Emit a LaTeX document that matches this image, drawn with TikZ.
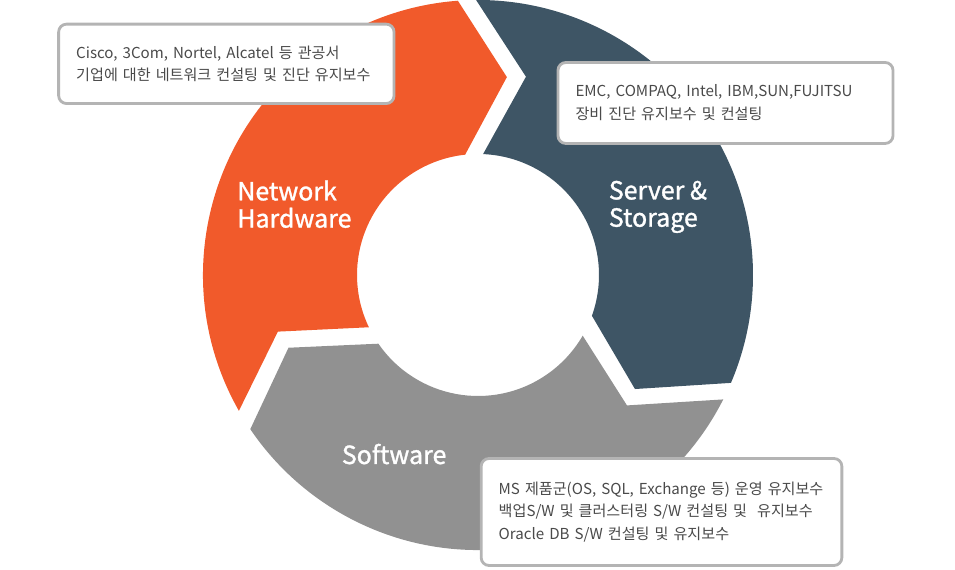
\documentclass[tikz,border=0pt]{standalone}
\usepackage{fontspec}
\setmainfont{Noto Sans CJK KR}
\newfontfamily\seglabelfont[FakeBold=1.2]{Noto Sans CJK KR}
\definecolor{hworange}{HTML}{F15A2B}
\definecolor{srvslate}{HTML}{3E5565}
\definecolor{swgray}{HTML}{919191}
\definecolor{boxline}{HTML}{B4B4B4}
\definecolor{boxtext}{HTML}{4A4A4A}
\begin{document}
\begin{tikzpicture}[x=0.02cm,y=0.02cm,
        seglabel/.style={text=white,inner sep=0pt,align=left,font=\seglabelfont\fontsize{14.2}{15.5}\selectfont},
        infobox/.style={draw=boxline,line width=1.6pt,fill=white,rounded corners=4.5pt,
            text=boxtext,align=left,inner xsep=10pt,inner ysep=0pt,font=\fontsize{8.6}{13}\selectfont}]
    \useasboundingbox (0,0) rectangle (955,570);
    \coordinate (c) at (478,295);
    % Ring segments
    \begin{scope}[shift={(c)}]
        \fill[hworange] (209.6:275) arc[start angle=209.6,end angle=94.2,radius=275]
            -- (81.7:200) -- (96.1:121) arc[start angle=96.1,end angle=205.6,radius=121]
            -- (195.8:208) -- cycle;
        \fill[srvslate] (90.4:275) arc[start angle=90.4,end angle=-23.1,radius=275]
            -- (-36.0:194) -- (-19.7:121) arc[start angle=-19.7,end angle=87.6,radius=121]
            -- (76.4:204) -- cycle;
        \fill[swgray] (-26.9:275) arc[start angle=-26.9,end angle=-145.9,radius=275]
            -- (201.0:203) -- (214.6:121) arc[start angle=214.6,end angle=329.9,radius=121]
            -- (-41.2:198) -- cycle;
    \end{scope}
    % Segment labels
    \node[seglabel,anchor=west] (hw) at (237,365.8) {Network\\Hardware};
    \node[seglabel,anchor=west] (srv) at (608.5,363.1) {Server \&\\Storage};
    \node[seglabel,anchor=base west] (sw) at (341.5,106) {Software};
    % Info boxes
    \node[infobox,minimum width=190.9pt,minimum height=45.2pt,text width=170.9pt] (hwinfo) at (226.35,506.15)
        {Cisco, 3Com, Nortel, Alcatel 등 관공서\\기업에 대한 네트워크 컨설팅 및 진단 유지보수};
    \node[infobox,minimum width=190.7pt,minimum height=46.1pt,text width=170.7pt] (srvinfo) at (725.5,467)
        {EMC, COMPAQ, Intel, IBM,SUN,FUJITSU\\장비 진단 유지보수 및 컨설팅};
    \node[infobox,minimum width=204.3pt,minimum height=60.9pt,text width=185.3pt] (swinfo) at (661.5,58)
        {MS 제품군(OS, SQL, Exchange 등) 운영 유지보수\\백업S/W 및 클러스터링 S/W 컨설팅 및 \ 유지보수\\Oracle DB S/W 컨설팅 및 유지보수};
\end{tikzpicture}
\end{document}
